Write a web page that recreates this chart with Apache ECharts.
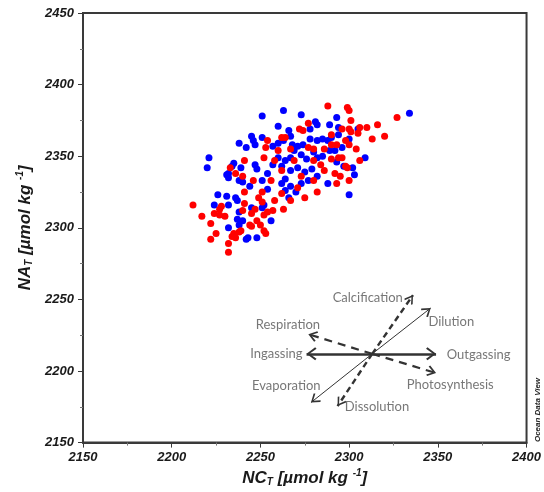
<!DOCTYPE html>
<html><head><meta charset="utf-8">
<script src="https://cdn.jsdelivr.net/npm/echarts@6/dist/echarts.min.js"></script>
<style>html,body{margin:0;padding:0;background:#fff}#c{width:544px;height:492px}</style>
</head><body><div id="c"></div>
<script>
const xTicks = [2150, 2200, 2250, 2300, 2350, 2400];
const yTicks = [2150, 2200, 2250, 2300, 2350, 2400, 2450];

const redPoints = [
[2241,2347],[2233,2342],[2236,2338],[2240,2336],[2299,2384],[2300,2382],[2301,2375],[2300,2369],
[2301,2367],[2306,2370],[2310,2370],[2316,2372],[2327,2377],[2320,2364],[2313,2362],[2305,2366],
[2298,2361],[2300,2358],[2304,2355],[2306,2347],[2298,2343],[2299,2342],[2241,2325],[2212,2316],
[2217,2308],[2228,2315],[2227,2313],[2224,2310],[2227,2309],[2230,2308],[2222,2303],[2225,2296],
[2222,2292],[2234,2294],[2236,2293],[2238,2297],[2239,2298],[2241,2317],[2240,2312],[2245,2310],
[2247,2313],[2244,2302],[2245,2301],[2248,2305],[2250,2302],[2252,2298],[2253,2296],[2252,2309],
[2232,2289],[2232,2283],[2235,2296],[2263,2313],[2254,2311],[2257,2312],[2300,2333],
[2277,2373],[2272,2369],[2274,2368],[2288,2385],[2296,2369],[2290,2365],[2264,2363],[2254,2361],
[2253,2356],[2260,2354],[2262,2363],[2267,2355],[2277,2356],[2280,2355],[2286,2355],[2290,2358],
[2293,2358],[2296,2349],[2252,2349],[2258,2347],[2262,2340],[2269,2347],[2280,2347],[2284,2344],
[2290,2348],[2294,2349],[2286,2340],[2292,2338],[2273,2336],[2280,2333],[2246,2333],[2256,2333],
[2295,2336],[2251,2325],[2262,2324],[2271,2328],[2282,2325],[2293,2331],[2275,2321],[2267,2319],
[2258,2319],[2251,2318],[2249,2321]
];

const bluePoints = [
[2238,2359],[2242,2356],[2221,2349],[2220,2342],[2235,2345],[2234,2343],[2239,2342],[2231,2337],
[2232,2338],[2334,2380],[2305,2369],[2300,2362],[2309,2349],[2302,2342],[2303,2337],[2232,2335],
[2238,2333],[2240,2332],[2226,2323],[2231,2322],[2224,2316],[2232,2316],[2237,2319],[2236,2321],
[2245,2314],[2238,2311],[2232,2300],[2238,2302],[2240,2305],[2237,2306],[2243,2293],[2248,2293],
[2242,2292],[2251,2314],[2252,2316],[2256,2305],[2300,2323],
[2263,2382],[2273,2379],[2251,2378],[2260,2371],[2281,2374],[2278,2369],[2282,2372],[2293,2377],
[2289,2372],[2294,2370],[2245,2364],[2246,2361],[2247,2358],[2251,2363],[2257,2357],[2260,2359],
[2263,2361],[2266,2368],[2267,2364],[2268,2358],[2271,2357],[2274,2358],[2278,2362],[2282,2361],
[2285,2362],[2288,2361],[2290,2363],[2294,2365],[2292,2354],[2296,2356],[2247,2344],[2248,2341],
[2251,2333],[2254,2338],[2257,2344],[2260,2349],[2262,2343],[2264,2347],[2267,2349],[2269,2354],
[2273,2351],[2276,2348],[2280,2353],[2282,2349],[2285,2350],[2289,2354],[2297,2343],[2293,2346],
[2267,2340],[2271,2342],[2275,2339],[2279,2341],[2282,2336],[2288,2331],[2262,2331],[2264,2334],
[2267,2329],[2270,2325],[2273,2331],[2277,2333],[2244,2329],[2254,2327],[2264,2326],[2266,2321]
];

// process vectors (data coordinates)
const vectorOrigin = [2313, 2212];
const vectorNames = ['Outgassing','Ingassing','Dilution','Evaporation','Calcification','Dissolution','Respiration','Photosynthesis'];
const vectorTipX = [2349, 2276, 2346, 2278.5, 2336, 2293.5, 2277, 2349];
const vectorTipY = [2212, 2212, 2244, 2178, 2253, 2175.5, 2225.7, 2198.6];
const labelX = [2373, 2259, 2357.6, 2264.6, 2310.5, 2315.7, 2265.5, 2357];
const labelY = [2211, 2212, 2234.5, 2189.4, 2251.4, 2175, 2232.2, 2190.1];

const vecStyle = {
  Outgassing:    {width: 2.6, type: 'solid', head: [13, 20]},
  Ingassing:     {width: 2.6, type: 'solid', head: [13, 20]},
  Dilution:      {width: 1, type: 'solid', head: [11, 18]},
  Evaporation:   {width: 1, type: 'solid', head: [11, 18]},
  Calcification: {width: 2.4, type: [6, 4], head: [10, 18]},
  Dissolution:   {width: 2.4, type: [6, 4], head: [10, 18]},
  Respiration:   {width: 2.2, type: [8, 6], head: [11, 18]},
  Photosynthesis:{width: 2.2, type: [8, 6], head: [11, 18]}
};
const chevron = 'path://M0,0 L6,8 L4.6,9.3 L0,2.8 L-4.6,9.3 L-6,8 Z M0,-9.3 L0.01,-9.3 L0,-9.29 Z';

const chart = echarts.init(document.getElementById('c'));
const tickFont = {fontFamily: 'Liberation Sans', fontWeight: 'bold', fontStyle: 'italic', fontSize: 13, color: '#1a1a1a'};
const nameRich = {
  b: {fontFamily: 'Liberation Sans', fontWeight: 'bold', fontStyle: 'italic', fontSize: 17, color: '#1a1a1a'},
  sub: {fontFamily: 'Liberation Sans', fontWeight: 'bold', fontStyle: 'italic', fontSize: 10, color: '#1a1a1a', padding: [8, 0, 0, 0]},
  sup: {fontFamily: 'Liberation Sans', fontWeight: 'bold', fontStyle: 'italic', fontSize: 10, color: '#1a1a1a', padding: [0, 0, 9, 0]}
};
const axisCommon = {
  axisLine: {show: true, lineStyle: {color: '#3a3a3a', width: 2}},
  axisTick: {show: true, inside: false, length: 5, lineStyle: {color: '#3a3a3a', width: 1}},
  minorTick: {show: true, splitNumber: 2, length: 3, lineStyle: {color: '#777', width: 1}},
  splitLine: {show: false},
  minorSplitLine: {show: false}
};

chart.setOption({
  animation: false,
  backgroundColor: '#fff',
  grid: {left: 83, right: 13, top: 13, bottom: 47, show: true, borderColor: '#3a3a3a', borderWidth: 2, backgroundColor: 'transparent'},
  xAxis: Object.assign({
    type: 'value', min: xTicks[0], max: xTicks[xTicks.length - 1], interval: xTicks[1] - xTicks[0],
    axisLabel: Object.assign({margin: 8, formatter: v => String(v)}, tickFont),
    name: '{b|NC}{sub|T}{b| [µmol kg }{sup|-1}{b|]}',
    nameLocation: 'middle', nameGap: 24,
    nameTextStyle: {rich: nameRich}
  }, axisCommon),
  yAxis: Object.assign({
    type: 'value', min: yTicks[0], max: yTicks[yTicks.length - 1], interval: yTicks[1] - yTicks[0],
    axisLabel: Object.assign({margin: 9, formatter: v => String(v)}, tickFont),
    name: '{b|NA}{sub|T}{b| [µmol kg }{sup|-1}{b|]}',
    nameLocation: 'middle', nameGap: 46, nameRotate: 90,
    nameTextStyle: {rich: nameRich}
  }, axisCommon),
  graphic: [{
    type: 'text', x: 538, y: 410, rotation: Math.PI / 2,
    style: {text: 'Ocean Data View', font: 'italic bold 8px "Liberation Sans"', fill: '#222', align: 'center', verticalAlign: 'middle'}
  }],
  series: [
    {
      type: 'scatter', name: 'blue', data: bluePoints, symbolSize: 7,
      itemStyle: {color: '#0000ff', opacity: 1}, silent: true
    },
    {
      type: 'scatter', name: 'red', data: redPoints, symbolSize: 7,
      itemStyle: {color: '#ff0000', opacity: 1}, silent: true
    },
    {
      type: 'scatter', name: 'processes', symbolSize: 0, silent: true,
      data: vectorNames.map((n, i) => ({name: n, value: [labelX[i], labelY[i]]})),
      label: {show: true, position: 'inside', formatter: p => p.name, fontFamily: 'Lato', fontSize: 13, color: '#555'},
      markLine: {
        silent: true, animation: false, label: {show: false}, emphasis: {disabled: true},
        data: vectorNames.map((n, i) => {
          const s = vecStyle[n];
          return [
            {coord: vectorOrigin, symbol: 'none', lineStyle: {color: '#333', width: s.width, type: s.type}},
            {coord: [vectorTipX[i], vectorTipY[i]], symbol: chevron, symbolSize: s.head}
          ];
        })
      }
    }
  ]
});
</script></body></html>
